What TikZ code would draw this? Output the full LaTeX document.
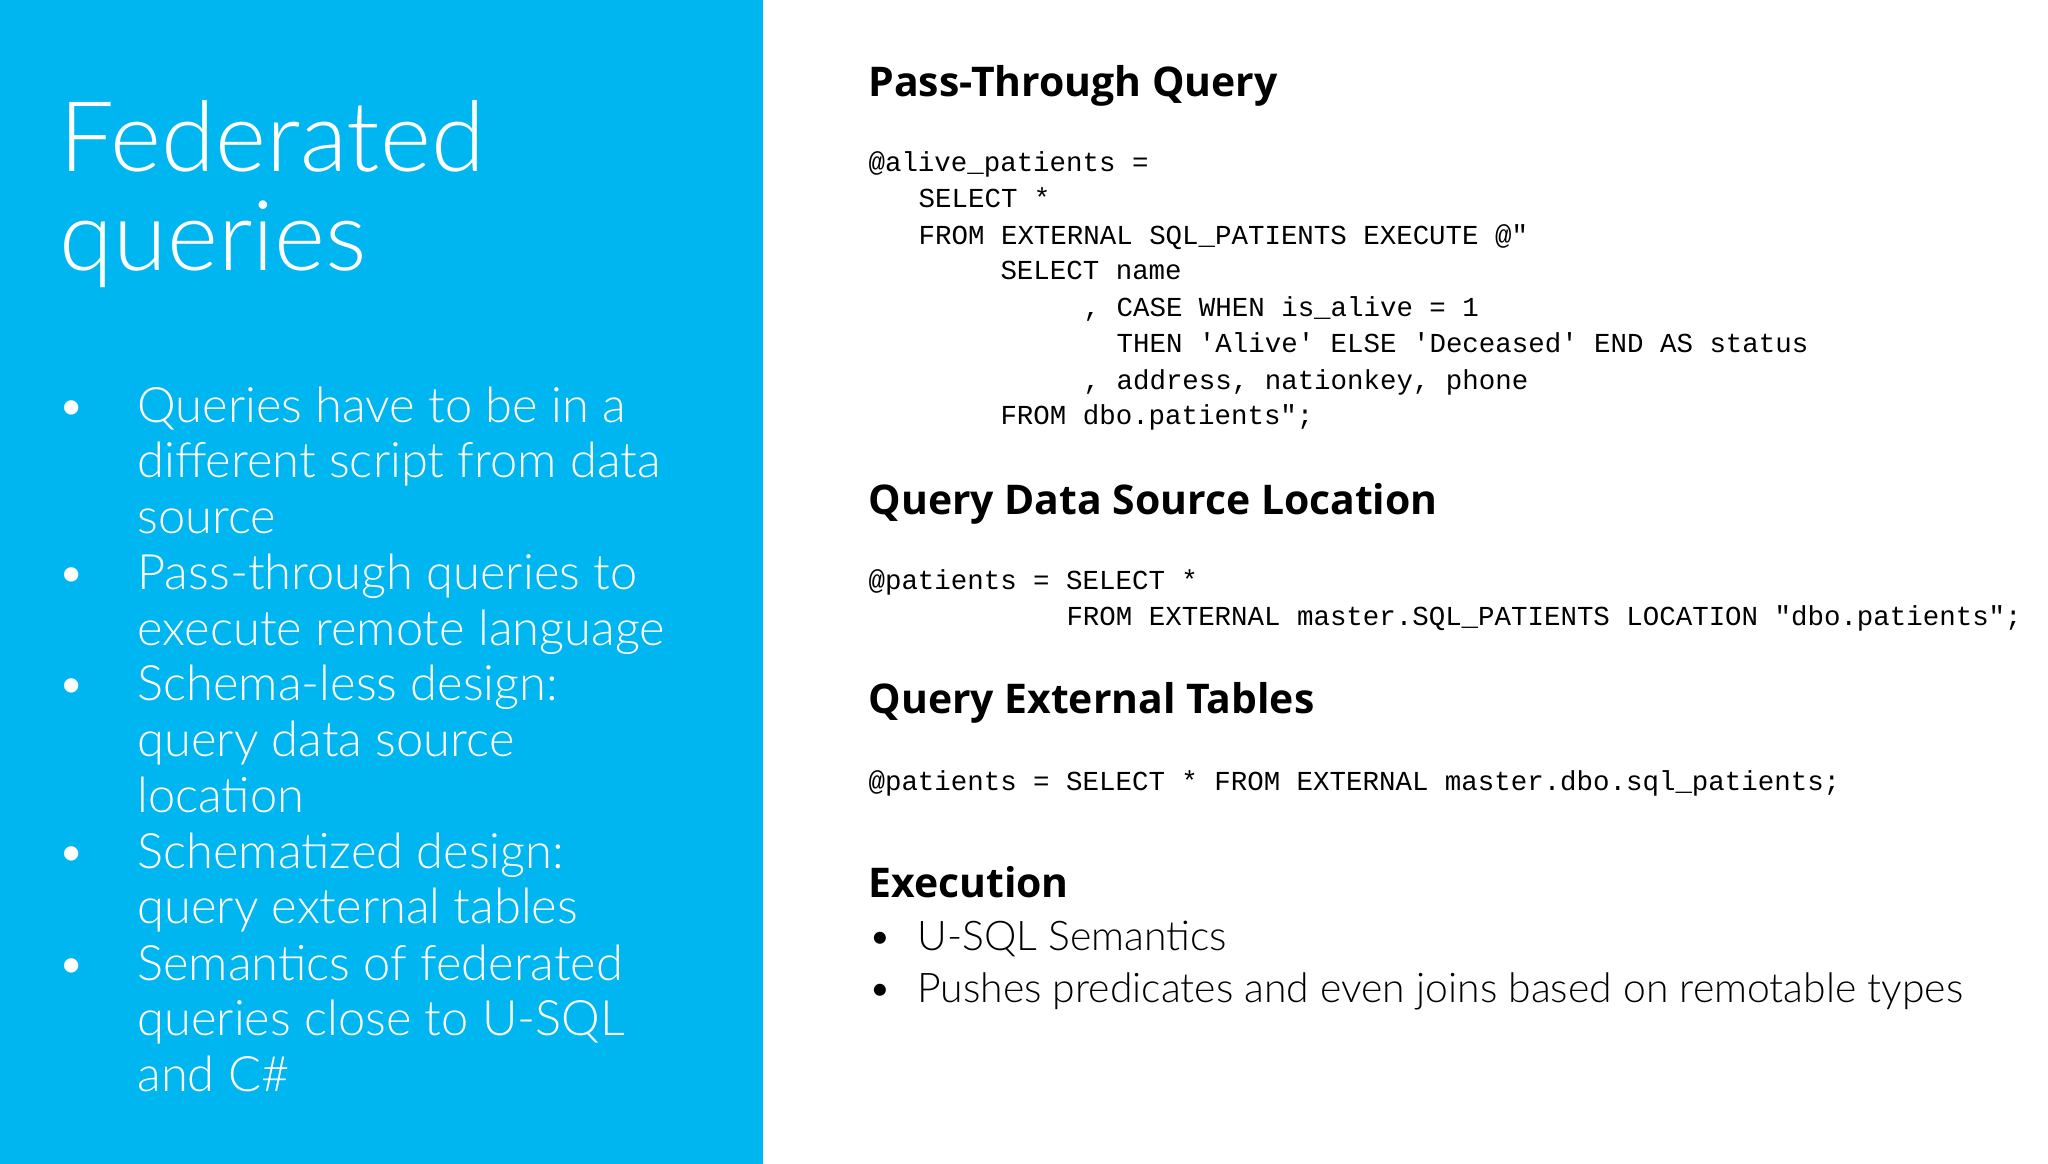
\documentclass[tikz,border=0pt]{standalone}
\usepackage{fontspec}
\setmainfont{Open Sans}
\newfontfamily\lightf{Lato Light}
\newfontfamily\headf{Open Sans}
\setmonofont{Liberation Mono}
\definecolor{panelblue}{RGB}{0,182,240}
\begin{document}
\begin{tikzpicture}[x=1pt,y=-1pt,
  title/.style={anchor=base west,inner sep=0pt,text=white,font=\lightf\fontsize{74}{74}\selectfont},
  bul/.style={anchor=base west,inner sep=0pt,text=white,font=\lightf\fontsize{37}{37}\selectfont},
  head/.style={anchor=base west,inner sep=0pt,font=\headf\bfseries\fontsize{31}{31}\selectfont},
  code/.style={anchor=base west,inner sep=0pt,font=\ttfamily\fontsize{20.8}{20.8}\selectfont},
  ebul/.style={anchor=base west,inner sep=0pt,font=\lightf\fontsize{31}{31}\selectfont}]
\useasboundingbox (0,0) rectangle (1552,882);
\fill[white] (0,0) rectangle (1552,882);
\fill[panelblue] (0,0) rectangle (578,882);
\node[title] (t1) at (45,130) {Federated};
\node[title] (t2) at (45,205) {queries};
\foreach \y/\n in {320/b1,447/b2,531/b3,658/b4,743/b5}
  \node[bul] (\n) at (43,\y) {•};
\node[bul] (l1) at (104,320) {Queries have to be in a};
\node[bul] (l2) at (104,362) {different script from data};
\node[bul] (l3) at (104,404) {source};
\node[bul] (l4) at (104,447) {Pass-through queries to};
\node[bul] (l5) at (104,489) {execute remote language};
\node[bul] (l6) at (104,531) {Schema-less design:};
\node[bul] (l7) at (104,573) {query data source};
\node[bul] (l8) at (104,616) {location};
\node[bul] (l9) at (104,658) {Schematized design:};
\node[bul] (l10) at (104,700) {query external tables};
\node[bul] (l11) at (104,743) {Semantics of federated};
\node[bul] (l12) at (104,785) {queries close to U-SQL};
\node[bul] (l13) at (104,827) {and C\#};
\node[head] (h1) at (658,73) {Pass-Through Query};
\node[code] (c1) at (658,130) {@alive\_patients =};
\node[code] (c2) at (696,157) {SELECT *};
\node[code] (c3) at (696,185) {FROM EXTERNAL SQL\_PATIENTS EXECUTE @"};
\node[code] (c4) at (758,212) {SELECT name};
\node[code] (c5) at (821,240) {, CASE WHEN is\_alive = 1};
\node[code] (c6) at (846,267) {THEN 'Alive' ELSE 'Deceased' END AS status};
\node[code] (c7) at (821,295) {, address, nationkey, phone};
\node[code] (c8) at (758,322) {FROM dbo.patients";};
\node[head] (h2) at (658,390) {Query Data Source Location};
\node[code] (d1) at (658,447) {@patients = SELECT *};
\node[code] (d2) at (808,474) {FROM EXTERNAL master.SQL\_PATIENTS LOCATION "dbo.patients";};
\node[head] (h3) at (658,541) {Query External Tables};
\node[code] (e1) at (658,599) {@patients = SELECT * FROM EXTERNAL master.dbo.sql\_patients;};
\node[head] (h4) at (658,680) {Execution};
\node[ebul] (x1) at (658,720) {•};
\node[ebul] (x2) at (658,760) {•};
\node[ebul] (y1) at (695,720) {U-SQL Semantics};
\node[ebul] (y2) at (695,760) {Pushes predicates and even joins based on remotable types};
\end{tikzpicture}
\end{document}
